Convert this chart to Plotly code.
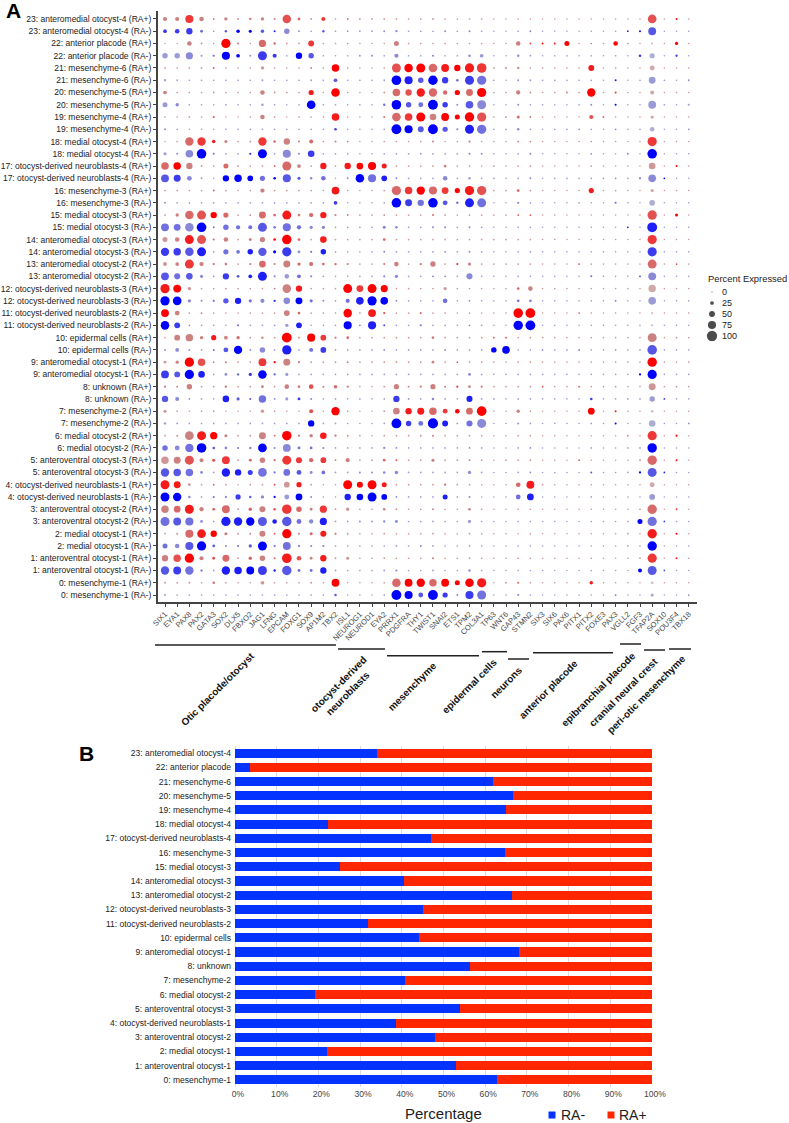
import plotly.graph_objects as go

WIDTH = 789
HEIGHT = 1123

CLUSTERS = [
    "23: anteromedial otocyst-4", "22: anterior placode", "21: mesenchyme-6", "20: mesenchyme-5",
    "19: mesenchyme-4", "18: medial otocyst-4", "17: otocyst-derived neuroblasts-4", "16: mesenchyme-3",
    "15: medial otocyst-3", "14: anteromedial otocyst-3", "13: anteromedial otocyst-2",
    "12: otocyst-derived neuroblasts-3", "11: otocyst-derived neuroblasts-2", "10: epidermal cells",
    "9: anteromedial otocyst-1", "8: unknown", "7: mesenchyme-2", "6: medial otocyst-2",
    "5: anteroventral otocyst-3", "4: otocyst-derived neuroblasts-1", "3: anteroventral otocyst-2",
    "2: medial otocyst-1", "1: anteroventral otocyst-1", "0: mesenchyme-1",
]

GENES = [
    "SIX1", "EYA1", "PAX8", "PAX2", "GATA3", "SOX2", "DLX5", "FBXO2", "JAG1", "LFNG", "EPCAM", "FOXG1",
    "SOX9", "AP1M2", "TBX2", "ISL1", "NEUROG1", "NEUROD1", "EYA2", "PRRX1", "PDGFRA", "THY1", "TWIST1",
    "SNAI2", "ETS1", "TPM2", "COL3A1", "TP63", "WNT6", "GAP43", "STMN2", "SIX3", "SIX6", "PAX6", "PITX1",
    "PITX2", "FOXE3", "PAX3", "VGLL2", "FGF3", "TFAP2A", "SOX10", "POU3F4", "TBX18",
]

# percent expressed, one row per cluster/condition, top row of the plot first
PCT = [
    [30,30,75,35,4,20,6,9,20,5,80,15,4,30,2, 5,3,3,3, 3,2,2,4,2,2,2,2, 1,1,2,1, 1,1,1,1,1,1,1,1,1,82,1,5,1],
    [25,35,55,15,2,10,24,18,22,6,45,3,2,10,2, 3,3,3,4, 9,2,2,2,4,2,6,2, 1,1,2,4, 1,1,1,1,1,1,1,3,5,72,1,1,1],
    [1,1,35,3,1,88,8,1,65,10,3,3,50,2,2, 2,1,1,1, 40,2,2,2,2,1,2,2, 1,1,35,4, 4,5,40,1,2,1,35,2,1,3,1,20,1],
    [45,45,65,8,8,75,25,5,85,30,2,55,45,2,1, 2,5,5,2, 30,2,2,7,2,2,10,25, 1,1,10,3, 1,2,2,1,2,1,2,1,12,42,1,9,1],
    [3,2,3,3,5,2,2,2,20,2,1,2,4,2,70, 2,1,1,2, 85,80,85,82,72,55,88,92, 3,4,9,2, 2,2,2,2,50,1,2,1,1,38,1,1,1],
    [9,3,2,2,2,2,2,2,5,2,2,2,3,2,25, 2,2,2,3, 92,75,45,90,55,12,85,88, 2,1,4,3, 2,2,2,2,2,1,6,1,2,60,2,1,3],
    [25,2,2,2,3,2,2,2,35,3,2,2,42,1,80, 1,1,1,3, 70,55,78,78,33,42,62,88, 2,2,32,3, 1,2,3,2,78,1,6,1,1,28,1,2,1],
    [40,22,2,2,1,3,2,2,11,2,1,2,82,2,2, 2,2,2,10, 92,45,38,95,45,5,70,85, 1,1,5,2, 2,1,1,2,4,1,6,1,1,72,2,1,6],
    [2,2,3,2,7,1,1,2,35,3,1,2,2,2,70, 2,1,1,5, 82,70,85,58,72,40,90,88, 2,3,18,4, 2,1,1,1,30,4,1,1,1,20,1,1,1],
    [7,2,1,1,1,2,2,2,3,2,2,2,2,2,12, 1,1,1,2, 95,75,50,95,42,8,85,88, 2,3,10,2, 1,2,2,3,2,1,3,1,2,35,1,1,3],
    [1,2,78,78,22,18,2,4,78,12,55,7,28,2,6, 3,1,1,2, 2,1,3,6,1,2,8,1, 1,1,3,3, 1,1,1,1,2,1,1,1,1,88,1,1,1],
    [18,4,70,92,5,2,2,8,85,2,75,6,58,2,3, 3,1,1,2, 2,3,4,3,2,3,6,5, 1,1,2,4, 1,1,1,1,3,1,1,4,1,92,1,1,1],
    [70,68,55,4,3,40,4,2,3,5,85,25,2,55,2, 55,60,75,40, 3,2,2,3,15,2,2,1, 3,1,2,3, 1,1,1,1,3,1,1,1,1,58,1,5,1],
    [72,62,38,4,1,55,68,48,42,12,75,18,10,35,1, 5,80,75,48, 4,3,2,3,35,2,10,2, 2,1,2,4, 1,2,2,2,2,2,3,2,7,70,3,1,1],
    [3,2,2,2,6,2,1,2,32,2,2,2,2,1,72, 1,1,1,3, 88,68,78,75,60,42,88,88, 2,2,15,2, 1,1,1,1,42,1,2,1,1,20,1,1,1],
    [6,2,2,2,2,2,2,2,3,2,2,2,2,2,25, 1,1,1,2, 92,62,55,92,38,10,85,85, 1,1,8,2, 1,1,1,2,1,1,6,1,1,48,1,1,1],
    [4,22,80,85,55,42,3,4,62,14,85,15,32,55,8, 5,2,3,3, 3,3,3,5,3,2,3,2, 2,2,3,4, 1,1,1,1,1,1,1,1,1,90,1,18,1],
    [72,60,80,92,5,45,30,28,85,12,75,32,20,20,2, 2,2,2,18, 12,2,2,5,6,2,6,2, 1,1,2,2, 1,1,1,1,1,1,1,4,1,95,1,1,1],
    [40,35,85,85,6,35,3,14,42,12,90,14,3,58,2, 2,2,2,14, 3,2,2,2,2,2,2,2, 2,2,2,2, 1,1,1,1,1,1,1,1,1,88,1,1,1],
    [78,68,80,85,2,42,25,45,78,18,88,15,7,45,2, 1,1,2,5, 3,3,3,4,4,2,5,2, 1,1,2,2, 1,1,1,1,1,1,1,1,1,88,1,1,1],
    [28,25,85,32,8,14,3,8,60,6,62,20,28,14,10, 7,2,2,6, 35,2,10,45,3,7,18,3, 2,2,2,2, 1,1,1,2,2,1,1,1,1,85,1,3,1],
    [72,52,58,18,4,55,15,25,85,7,35,25,8,3,1, 1,2,2,8, 20,2,3,5,4,2,52,2, 1,1,2,2, 1,1,1,1,6,1,1,1,3,72,1,1,1],
    [88,72,22,3,2,4,2,2,2,4,80,55,2,2,2, 85,60,85,65, 2,2,2,2,18,2,3,1, 1,1,12,35, 1,1,1,1,1,1,1,1,1,68,1,1,1],
    [88,82,22,6,8,45,55,18,30,10,58,62,18,6,2, 30,70,88,70, 5,2,2,2,35,2,5,2, 1,1,12,16, 1,1,1,1,1,1,3,1,1,70,1,1,1],
    [72,38,3,3,2,1,1,2,2,2,50,14,2,2,1, 80,4,72,9, 2,2,7,2,2,1,2,1, 1,1,92,95, 1,1,1,1,1,1,1,1,1,8,1,1,1],
    [80,50,3,2,2,1,6,3,4,3,22,48,1,1,2, 75,5,75,6, 2,2,9,2,2,1,4,2, 1,1,90,95, 1,1,1,1,1,1,1,1,1,8,1,1,1],
    [3,50,68,22,42,25,20,4,10,4,95,4,75,48,8, 14,2,2,2, 3,2,2,14,2,2,3,2, 3,5,1,2, 1,1,1,1,1,1,1,1,1,85,1,2,1],
    [4,25,5,3,6,38,78,5,45,3,88,2,28,48,2, 2,2,2,4, 2,2,2,3,4,2,3,2, 45,70,1,1, 3,2,2,3,1,1,2,1,2,92,1,1,1],
    [14,20,88,68,3,6,2,2,72,8,62,8,3,3,3, 4,2,2,2, 3,2,2,14,2,3,2,2, 1,1,2,2, 1,1,1,1,1,1,1,1,1,90,1,1,1],
    [72,50,88,58,2,14,10,20,80,7,18,2,2,2,1, 2,2,2,2, 2,2,2,2,2,2,15,2, 1,1,2,2, 1,1,1,1,1,1,1,1,7,88,1,1,1],
    [8,4,45,3,3,10,2,3,15,2,35,14,35,6,22, 8,1,1,3, 42,4,8,42,5,7,14,8, 2,2,2,2, 3,1,1,3,1,1,3,1,1,62,1,2,1],
    [55,28,3,2,1,58,18,6,68,4,18,16,6,1,2, 1,2,1,2, 55,3,2,12,3,1,52,2, 2,1,2,2, 1,1,1,1,12,1,1,2,2,45,3,1,1],
    [18,2,1,2,3,1,1,1,20,2,1,1,28,1,78, 2,1,1,3, 58,55,62,68,38,35,60,92, 1,1,22,2, 1,1,1,1,60,1,5,1,1,12,1,1,1],
    [10,4,2,2,2,2,2,2,3,2,2,2,55,2,2, 1,1,1,2, 95,45,38,98,50,4,52,85, 1,1,5,2, 1,1,1,1,2,1,5,1,1,58,1,1,3],
    [3,6,82,85,65,18,3,4,62,4,90,8,22,58,8, 4,2,1,3, 3,2,5,6,2,2,3,2, 1,1,2,2, 1,1,1,1,1,1,1,3,1,88,1,7,1],
    [45,38,78,92,12,14,6,12,82,6,72,15,14,7,2, 2,2,3,9, 4,2,2,2,2,2,3,2, 1,1,2,3, 1,1,1,1,2,1,1,2,3,90,1,1,1],
    [68,62,85,28,18,72,4,16,45,8,85,52,32,48,3, 30,2,3,14, 5,2,2,18,3,3,4,2, 1,2,2,3, 1,1,1,3,1,1,1,1,2,90,1,5,1],
    [78,68,68,15,3,78,55,40,82,8,60,38,16,25,3, 3,6,4,12, 22,2,2,3,3,2,20,2, 1,1,2,3, 1,1,1,1,5,1,1,2,8,85,3,1,1],
    [85,62,14,2,4,3,1,2,3,5,48,42,2,1,1, 85,52,85,40, 2,2,2,2,8,2,3,1, 1,1,35,72, 2,1,1,1,1,1,1,1,1,38,1,1,1],
    [85,78,12,2,7,8,42,10,20,8,38,60,4,1,1, 55,58,85,48, 3,2,2,2,40,2,7,1, 1,1,38,60, 1,1,1,1,2,1,1,1,1,48,1,1,1],
    [68,60,85,32,12,72,3,22,52,12,92,45,15,65,3, 22,2,2,12, 4,2,2,4,2,2,12,2, 1,1,2,2, 1,1,1,1,1,1,1,1,2,90,1,5,1],
    [85,72,75,14,3,88,78,78,85,35,90,38,32,65,3, 3,4,3,9, 16,2,2,3,2,2,20,2, 1,1,2,2, 1,1,1,1,2,1,1,2,40,88,3,1,1],
    [3,7,75,82,55,18,4,5,52,5,88,7,18,52,7, 4,2,2,3, 2,2,2,3,2,2,3,2, 1,1,1,2, 1,1,1,1,1,1,1,3,1,90,1,7,1],
    [40,35,75,88,14,6,6,20,85,8,72,9,8,8,2, 2,2,2,2, 3,2,5,3,2,2,3,2, 1,1,2,2, 1,1,1,1,1,1,1,3,2,90,1,1,1],
    [55,68,88,30,15,62,3,22,45,6,92,35,15,55,4, 18,2,2,3, 2,2,2,6,2,2,3,2, 1,1,2,2, 1,1,1,1,2,1,1,1,3,88,1,6,1],
    [78,72,78,10,3,78,68,72,85,10,90,16,16,55,3, 2,2,2,3, 8,2,2,3,2,2,10,2, 1,1,2,2, 1,1,1,1,2,1,1,1,28,85,3,1,1],
    [4,3,4,2,10,2,1,1,25,2,2,2,5,2,72, 1,1,1,2, 80,72,78,68,72,40,80,88, 1,4,7,2, 1,1,1,1,22,1,1,1,1,14,1,1,1],
    [5,2,2,2,2,2,2,2,2,2,2,2,2,2,11, 1,1,1,2, 95,75,38,95,42,6,75,85, 1,1,7,2, 1,1,1,1,1,1,3,1,1,20,1,1,3],
]

# scaled average expression as one digit per gene (0 = grey, 9 = full colour)
EXPR = [
    "447444354465373 4333 33333333 3333 3333333336393",
    "777536996844363 3334 43334343 3334 3333333896333",
    "224439435533733 3333 43333333 3346 9893439332393",
    "334359947739633 3343 43343343 3343 3333333372373",
    "333353333333439 3333 69958987 3443 3333833332333",
    "333333333333336 3333 98697575 3343 3333338333334",
    "433333334333839 3333 56855959 3343 3353937332333",
    "343333333333933 3335 96597464 3343 3333439333333",
    "333363334333338 3335 57949996 3454 3333653332333",
    "333333333333337 3333 99696485 3343 3334334332334",
    "235784337544534 4333 33343343 3344 3333333337333",
    "344953379344733 3333 33333344 3334 3333433439333",
    "594335333554383 8998 33334333 3333 3333333333393",
    "674339995966453 4958 43334333 3334 3333334354933",
    "333353334333338 3333 57957986 3353 3333833332333",
    "333333333333337 3333 97596585 3343 3333335332333",
    "345695345584584 4334 33353333 3366 3333333336393",
    "554955556555443 3334 43344343 3333 3333333838333",
    "348654354995383 3335 33333333 3333 3333333337333",
    "776835586974583 3334 33334343 3333 3333333337333",
    "347454345445555 4335 43443743 3333 3337333335373",
    "656437688435433 3334 43344343 3333 3333533374333",
    "893333333448333 9799 33333333 3354 3333333332333",
    "994456854749543 5899 43335343 3354 3333335333333",
    "943533333345333 9386 33533333 3399 3337333331333",
    "974333533338333 9486 33433343 3399 3333333331333",
    "244484534394974 5333 33343333 6633 3333333334333",
    "444356944383573 3334 33334333 9933 4335333336333",
    "349644337944333 4333 33343533 3333 3333333339333",
    "769834579633333 3333 33333343 3333 3333333399333",
    "444334334344645 4333 44444744 3333 6336333333333",
    "644338665437433 3333 74343383 3333 3333733333733",
    "333333333333639 3333 48857959 3343 3333938331333",
    "333333333333933 3333 97598354 3343 3333339332334",
    "334894334594485 4333 33343333 3333 3333333437393",
    "545964549445543 3334 43333343 3334 3333333339333",
    "346467354577574 4335 63343343 3333 3336333345393",
    "665438875556453 3444 43333343 3334 3333633396833",
    "883353333638333 9998 33335333 3358 3333333332333",
    "994354764939433 8999 43338343 3358 3333333333333",
    "458465354675473 3334 33343343 3333 3333333345373",
    "565438896865483 3444 43333333 3333 3333333395733",
    "335894344594585 3333 33333333 3333 3333333338393",
    "546964569554443 3333 33433333 3333 3333333339333",
    "469465354586483 3333 33343333 3333 3333333337383",
    "675438897865583 3333 43333343 3333 3333333396633",
    "333353333333339 3333 59959998 3353 3333833331333",
    "333333333333336 3333 99697475 3343 3333335332334",
]

LEGEND_PCT = [100, 75, 50, 25, 0]

# panel B, share of cells per cluster, same order as CLUSTERS
RA_MINUS = [34.0, 3.5, 61.9, 66.7, 65.0, 22.3, 47.0, 64.7, 25.2, 40.5, 66.4, 45.0,
            31.9, 44.1, 68.1, 56.4, 40.8, 19.2, 54.0, 38.7, 48.0, 22.0, 52.9, 62.8]
RA_PLUS = [66.0, 96.5, 38.1, 33.3, 35.0, 77.7, 53.0, 35.3, 74.8, 59.5, 33.6, 55.0,
           68.1, 55.9, 31.9, 43.6, 59.2, 80.8, 46.0, 61.3, 52.0, 78.0, 47.1, 37.2]

FONT = "Liberation Sans"
RED_SCALE = [[0, "#d3d3d3"], [0.45, "#cc8080"], [0.7, "#e84a4a"], [1, "#ff0000"]]
BLUE_SCALE = [[0, "#d3d3d3"], [0.45, "#8888d8"], [0.7, "#5050e8"], [1, "#0000ff"]]


def px_x(x):
    return x / WIDTH


def px_y(y):
    return 1 - y / HEIGHT


def dot_size(pct):
    return 1.5 + 0.088 * pct


def dot_trace(row_start, colorscale, name):
    xs, ys, sizes, colors = [], [], [], []
    for r in range(row_start, len(PCT), 2):
        digits = EXPR[r].replace(" ", "")
        assert len(PCT[r]) == len(GENES) and len(digits) == len(GENES), r
        for g, gene in enumerate(GENES):
            xs.append(gene)
            ys.append(row_labels[r])
            sizes.append(dot_size(PCT[r][g]))
            colors.append(int(digits[g]))
    return go.Scatter(
        x=xs, y=ys, mode="markers", name=name, showlegend=False,
        marker=dict(size=sizes, sizemode="diameter", color=colors, cmin=0, cmax=9,
                    colorscale=colorscale, showscale=False, line=dict(width=0), opacity=1),
    )


row_labels = []
for c in CLUSTERS:
    row_labels += [f"{c} (RA+)", f"{c} (RA-)"]
legend_labels = [str(p) for p in LEGEND_PCT]

fig = go.Figure()
fig.add_trace(dot_trace(0, RED_SCALE, "RA+"))
fig.add_trace(dot_trace(1, BLUE_SCALE, "RA-"))

# size legend of panel A on its own small axes
fig.add_trace(go.Scatter(
    x=[0] * len(LEGEND_PCT), y=legend_labels, mode="markers", showlegend=False,
    marker=dict(size=[dot_size(p) for p in LEGEND_PCT], color=["#000000"] * 4 + ["#777777"], line=dict(width=0)),
    xaxis="x3", yaxis="y3",
))

fig.add_trace(go.Bar(y=CLUSTERS, x=RA_MINUS, orientation="h", marker=dict(color="#0433FF", line=dict(width=0)),
                     name="RA-", showlegend=False, xaxis="x2", yaxis="y2"))
fig.add_trace(go.Bar(y=CLUSTERS, x=RA_PLUS, orientation="h", marker=dict(color="#FF2600", line=dict(width=0)),
                     name="RA+", showlegend=False, xaxis="x2", yaxis="y2"))

fig.update_layout(
    template=None, width=WIDTH, height=HEIGHT, margin=dict(l=0, r=0, t=0, b=0),
    paper_bgcolor="white", plot_bgcolor="white", barmode="stack", bargap=0.36,
    font=dict(family=FONT, color="#222222"),
    xaxis=dict(
        domain=[px_x(157.7), px_x(697)], type="category", categoryorder="array", categoryarray=GENES,
        range=[-0.6, 43.68], showgrid=False, zeroline=False, showline=True, linecolor="#444444", linewidth=1.5,
        ticks="outside", ticklen=3, tickwidth=1, tickcolor="#444444", tickangle=-45,
        tickfont=dict(size=7.6, color="#444444"), anchor="y", automargin=False,
    ),
    yaxis=dict(
        domain=[px_y(602), px_y(11)], type="category", categoryorder="array", categoryarray=row_labels[::-1],
        range=[-0.57, 47.65], showgrid=False, zeroline=False, showline=True, linecolor="#444444", linewidth=1.5,
        ticks="outside", ticklen=3, tickwidth=1, tickcolor="#444444",
        tickfont=dict(size=8.5, color="#222222"), anchor="x", automargin=False,
    ),
    xaxis2=dict(
        domain=[px_x(235), px_x(652)], range=[0, 100], dtick=10, ticksuffix="%", showgrid=True,
        gridcolor="#dcdcdc", gridwidth=1.4, zeroline=True, zerolinecolor="#dcdcdc", zerolinewidth=1.4,
        showline=False, ticks="", ticklabelshift=3, tickfont=dict(size=8.6, color="#444444"), anchor="y2",
        automargin=False,
    ),
    yaxis2=dict(
        domain=[px_y(1087), px_y(746)], type="category", categoryorder="array", categoryarray=CLUSTERS[::-1],
        range=[-0.5, 23.5], showgrid=False, zeroline=False, showline=False, ticks="", ticklabelstandoff=3,
        tickfont=dict(size=8.5, color="#222222"), anchor="x2", automargin=False,
    ),
    xaxis3=dict(domain=[px_x(704), px_x(720)], range=[-1, 1], visible=False, anchor="y3", automargin=False),
    yaxis3=dict(
        domain=[px_y(341.5), px_y(286.5)], type="category", categoryorder="array",
        categoryarray=legend_labels, range=[-0.5, 4.5], side="right", anchor="x3",
        tickmode="array", tickvals=legend_labels, ticktext=legend_labels,
        showgrid=False, zeroline=False, showline=False, ticks="", ticklabelstandoff=1,
        tickfont=dict(size=9, color="#222222"), automargin=False,
    ),
)

# gene group rulers under panel A: start px, end px, height px
GROUP_LINES = [(155, 336, 645), (338, 385, 649), (387, 479, 655.7), (482, 507, 651.7), (508, 529, 659),
               (533, 613, 652.7), (620, 641, 644), (644, 665, 650), (669, 691, 649)]
GROUP_TEXT = [("Otic placode/otocyst", 217, 689), ("otocyst-derived<br>neuroblasts", 343, 689), ("mesenchyme", 412, 686),
              ("epidermal cells", 469, 686), ("neurons", 506, 682), ("anterior placode", 548, 689),
              ("epibranchial placode", 598, 689), ("cranial neural crest", 623, 692), ("peri-otic mesenchyme", 646, 694)]

for x0, x1, y in GROUP_LINES:
    fig.add_shape(type="line", xref="paper", yref="paper", x0=px_x(x0), x1=px_x(x1), y0=px_y(y), y1=px_y(y),
                  line=dict(color="#222222", width=1.5))
for text, x, y in GROUP_TEXT:
    fig.add_annotation(text=f"<b>{text}</b>", xref="paper", yref="paper", x=px_x(x), y=px_y(y), showarrow=False,
                       textangle=-45, font=dict(size=10, color="#111111"), xanchor="center", yanchor="middle")


def label(text, x, y, size, bold=False, color="#222222", xanchor="center"):
    text = f"<b>{text}</b>" if bold else text
    fig.add_annotation(text=text, xref="paper", yref="paper", x=px_x(x), y=px_y(y), showarrow=False,
                       font=dict(size=size, color=color), xanchor=xanchor, yanchor="middle")


label("A", 13, 10, 21, bold=True, color="#000000")
label("B", 86, 753, 21, bold=True, color="#000000")
label("Percent Expressed", 706, 278, 9.4, xanchor="left")
label("Percentage", 443, 1113, 15)
label("RA-", 559, 1115, 14, xanchor="left")
label("RA+", 617, 1115, 14, xanchor="left")

for x, color in [(552, "#0433FF"), (611, "#FF2600")]:
    fig.add_shape(type="rect", xref="paper", yref="paper", x0=px_x(x - 3.5), x1=px_x(x + 3.5),
                  y0=px_y(1118.5), y1=px_y(1111.5), fillcolor=color, line=dict(width=0))

# the browser's default 8 px body margin would push the figure off the page
fig.write_html("out.html", config={"displayModeBar": False},
               post_script="document.body.style.margin='0';document.body.style.overflow='hidden';")
